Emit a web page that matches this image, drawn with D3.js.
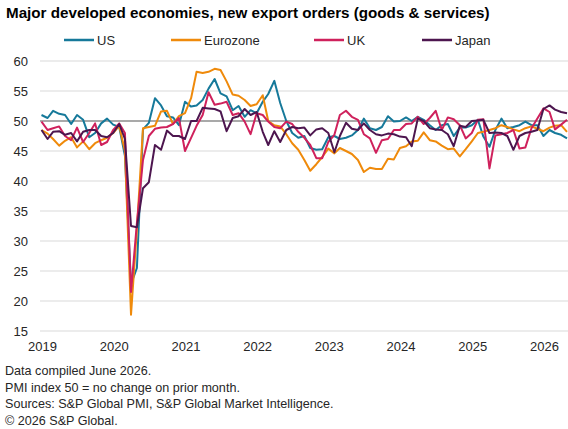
<!DOCTYPE html>
<html lang="en">
<head>
<meta charset="utf-8">
<title>New export orders</title>
<script src="https://d3js.org/d3.v7.min.js"></script>
<style>
  body { margin: 0; background: #fff; font-family: "Liberation Sans", Arial, sans-serif; }
  svg text { fill: #262626; }
</style>
</head>
<body>
<svg id="chart" width="568" height="429"></svg>
<script>
// monthly, Jan 2019 .. May 2026
var startYear = 2019;
var yearLabels = ["2019", "2020", "2021", "2022", "2023", "2024", "2025", "2026"];
var yTicks = [15, 20, 25, 30, 35, 40, 45, 50, 55, 60];
var seriesNames = ["US", "Eurozone", "UK", "Japan"];
var seriesColors = ["#16799a", "#ef8a0b", "#cf215c", "#4d164f"];

var us = [
  51.0, 50.5, 51.7, 51.2, 51.0, 49.5, 51.0, 50.2, 47.3, 48.0, 49.6, 50.4,
  49.4, 49.0, 44.2, 22.8, 25.5, 48.6, 49.7, 53.8, 52.6, 50.8, 50.6, 49.3,
  53.2, 52.4, 52.6, 53.5, 55.4, 57.0, 54.6, 54.1, 51.8, 52.5, 50.7, 51.8,
  51.3, 53.2, 54.5, 56.7, 53.0, 50.0, 48.0, 47.2, 47.5, 45.5, 45.2, 45.3,
  47.3, 47.5, 47.0, 47.2, 47.6, 48.5, 50.4, 48.8, 48.5, 49.0, 50.8, 49.9,
  50.0, 50.6, 50.0, 50.7, 50.2, 49.3, 48.5, 49.3, 49.5, 47.5, 48.9, 48.9,
  49.3, 50.2, 47.4, 45.7, 48.5, 50.4, 48.8, 49.0, 49.3, 49.9, 49.3, 49.3,
  47.5, 48.5, 48.0, 47.7, 47.1
];
var eurozone = [
  48.5, 47.9, 47.0, 45.9, 46.7, 47.3, 45.6, 46.6, 45.3, 46.3, 46.8, 47.2,
  48.0, 49.2, 45.0, 17.7, 32.0, 48.8, 49.0, 49.2, 51.6, 51.7, 49.5, 50.8,
  51.3, 53.8, 58.2, 58.0, 58.2, 58.7, 58.5, 56.6, 54.4, 54.2, 53.5, 52.5,
  52.8, 54.3, 50.0, 49.3, 49.1, 47.8, 46.3, 45.2, 43.5, 41.7, 42.8, 44.0,
  45.4, 44.6, 45.5, 45.0, 44.5, 43.5, 41.5, 42.2, 42.0, 42.0, 43.7, 43.6,
  45.5, 45.8, 46.6, 46.7, 48.1, 46.8, 46.6, 45.9, 45.3, 45.4, 44.1, 45.3,
  46.6, 48.0, 48.2, 48.5, 48.8, 49.3, 49.0, 48.6, 48.3, 48.8, 49.1, 48.7,
  48.3, 48.9, 49.2, 49.3, 48.2
];
var uk = [
  49.9, 48.5, 48.8, 49.1, 47.5, 46.8, 48.9, 46.5, 48.0, 49.6, 46.0, 46.5,
  48.5, 49.6, 48.0, 21.5, 33.0, 43.5, 47.5, 48.7, 48.9, 49.0, 49.5, 50.5,
  45.0, 47.2, 49.2, 51.0, 54.8, 52.7, 52.9, 53.2, 51.0, 51.3, 49.9, 47.8,
  51.3, 51.0, 49.9, 49.0, 48.8, 49.9, 49.5, 48.2, 47.2, 46.0, 43.8, 43.8,
  46.5, 47.7, 51.0, 51.7, 50.7, 50.2, 47.8, 47.1, 44.7, 46.8, 47.0, 48.5,
  48.5, 49.5, 49.6, 50.7, 49.5, 50.5, 51.7, 48.5, 50.6, 50.3, 49.3, 47.1,
  48.0, 50.2, 50.3, 42.1, 47.6, 47.8, 48.0, 48.5, 45.4, 45.6, 48.8, 50.4,
  52.1, 51.5, 48.6, 49.4, 50.2
];
var japan = [
  48.5, 47.0, 48.2, 48.3, 47.7, 48.0, 46.6, 48.2, 48.5, 48.5, 47.5, 47.3,
  48.0, 49.5, 47.0, 32.5, 32.3, 38.8, 39.8, 46.0, 45.2, 48.4, 47.5, 47.5,
  47.0, 50.0, 50.0, 52.2, 52.1, 52.0, 51.6, 48.3, 50.5, 50.8, 52.0, 51.0,
  51.5, 48.2, 46.0, 48.3, 46.5, 48.5, 49.0, 48.8, 48.9, 47.6, 48.6, 48.8,
  48.0, 44.8, 47.5, 49.7, 48.7, 48.5, 49.6, 48.5, 47.8, 47.6, 47.9, 47.8,
  47.4, 47.3, 45.8, 50.4, 50.0, 48.8, 48.6, 48.5, 47.8, 45.8, 49.2, 49.0,
  50.0, 50.1, 50.2, 48.0, 48.1, 48.0, 47.5, 45.2, 47.5, 48.0, 48.2, 48.5,
  52.0, 52.6, 51.9, 51.5, 51.3
];

var seriesData = [us, eurozone, uk, japan];

var svg = d3.select("#chart");
var plotLeft = 40, plotRight = 568, plotTop = 61, plotBottom = 331;

var x = d3.scaleTime()
  .domain([new Date(startYear, 0, 1), new Date(startYear, us.length - 1, 1)])
  .range([41.5, 567]);
var y = d3.scaleLinear().domain([15, 60]).range([plotBottom, plotTop]);

function monthDate(i) { return new Date(startYear, i, 1); }

// title
svg.append("text")
  .attr("x", 6).attr("y", 18)
  .attr("font-size", 15.2).attr("font-weight", "bold")
  .style("fill", "#000")
  .text("Major developed economies, new export orders (goods & services)");

// legend
var legendX = [64, 171, 314, 422];
var lg = svg.append("g");
seriesNames.forEach(function(name, k) {
  lg.append("line")
    .attr("x1", legendX[k]).attr("x2", legendX[k] + 30)
    .attr("y1", 40).attr("y2", 40)
    .attr("stroke", seriesColors[k]).attr("stroke-width", 2.5);
  lg.append("text")
    .attr("x", legendX[k] + 33).attr("y", 45)
    .attr("font-size", 13)
    .text(name);
});

// gridlines
svg.append("g").selectAll("line")
  .data(yTicks)
  .enter().append("line")
  .attr("x1", plotLeft).attr("x2", plotRight)
  .attr("y1", function(d) { return y(d); })
  .attr("y2", function(d) { return y(d); })
  .attr("stroke", function(d) { return d == 50 ? "#8c8c8c" : "#d9d9d9"; })
  .attr("stroke-width", function(d) { return d == 50 ? 1.3 : 1; });

// y axis labels
svg.append("g").selectAll("text")
  .data(yTicks)
  .enter().append("text")
  .attr("x", 28)
  .attr("y", function(d) { return y(d) + 4.5; })
  .attr("text-anchor", "end")
  .attr("font-size", 13)
  .text(function(d) { return d; });

// x axis labels
svg.append("g").selectAll("text")
  .data(yearLabels)
  .enter().append("text")
  .attr("x", function(d) { return x(new Date(+d, 0, 1)) + 1; })
  .attr("y", 351)
  .attr("text-anchor", "middle")
  .attr("font-size", 13)
  .text(function(d) { return d; });

// lines
var line = d3.line()
  .x(function(d, i) { return x(monthDate(i)); })
  .y(function(d) { return y(d); });

svg.append("g").selectAll("path")
  .data(seriesData)
  .enter().append("path")
  .attr("d", line)
  .attr("fill", "none")
  .attr("stroke", function(d, k) { return seriesColors[k]; })
  .attr("stroke-width", 2)
  .attr("stroke-linejoin", "round");

// footnotes
var notes = [
  "Data compiled June 2026.",
  "PMI index 50 = no change on prior month.",
  "Sources: S&P Global PMI, S&P Global Market Intelligence.",
  "\u00a9 2026 S&P Global."
];
svg.append("g").selectAll("text")
  .data(notes)
  .enter().append("text")
  .attr("x", 5)
  .attr("y", function(d, i) { return 375 + i * 16.5; })
  .attr("font-size", 12.6)
  .text(function(d) { return d; });
</script>
</body>
</html>
